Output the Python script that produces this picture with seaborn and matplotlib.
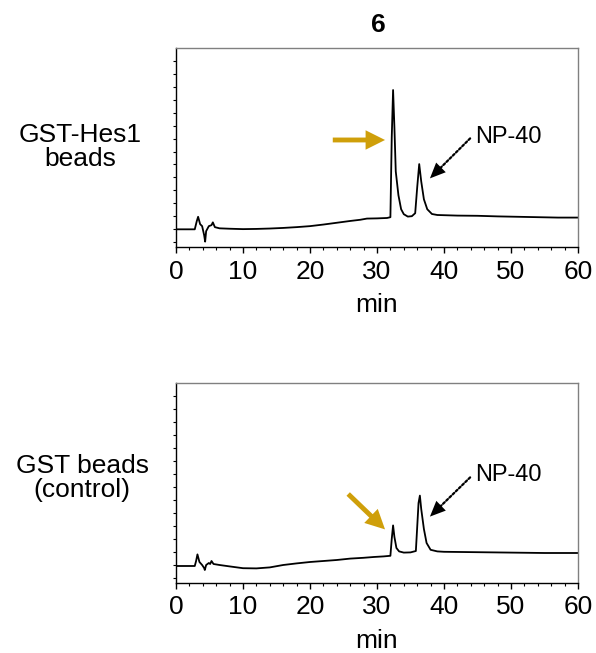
import numpy as np
import pandas as pd
import matplotlib.pyplot as plt
import seaborn as sns

sns.set_style("ticks")
plt.rcParams['font.family'] = ['Liberation Sans', 'DejaVu Sans']
plt.rcParams['text.color'] = 'black'
plt.rcParams['xtick.color'] = 'black'
plt.rcParams['ytick.color'] = 'black'
plt.rcParams['axes.labelcolor'] = 'black'

# retention time (min) and detector signal (arbitrary units, 0-100 of plot height)
hes1_time = [0, 2.8, 3.1, 3.3, 3.6, 3.9, 4.2, 4.35, 4.5, 4.9, 5.3, 5.5, 5.8, 6.5, 8, 10,
             12, 14, 16, 18, 20, 22, 24, 26, 27.5, 28.5, 30, 31.5, 32.0, 32.2, 32.4,
             32.6, 32.8, 33.2, 33.6, 34.0, 34.6, 35.2, 35.7, 36.0, 36.3, 36.6, 37.0,
             37.5, 38.2, 39, 40, 42, 45, 48, 51, 54, 57, 60]
hes1_signal = [8.9, 8.9, 13, 15.2, 11.5, 10.5, 6, 2.7, 8, 10.5, 11, 12.4, 10, 9.4, 9.2, 9.0,
               9.1, 9.3, 9.6, 10.0, 10.5, 11.3, 12.2, 13.1, 13.7, 14.3, 14.4, 14.6, 15, 55, 78.9,
               60, 38, 26, 19, 16.5, 15.3, 15.5, 17, 30, 41.7, 33, 24,
               19, 16.6, 16.1, 16.0, 15.8, 15.7, 15.4, 15.2, 15.0, 14.8, 14.8]

ctrl_time = [0, 2.8, 3.0, 3.2, 3.5, 3.9, 4.2, 4.3, 4.5, 4.9, 5.1, 5.3, 5.6, 6.5, 8, 10,
             12, 14, 16, 18, 20, 22, 24, 26, 28, 29.5, 31, 32.0, 32.2, 32.4, 32.6, 32.9,
             33.3, 34, 35, 35.8, 36.0, 36.2, 36.4, 36.6, 37.0, 37.4, 38.0, 39, 40, 45,
             50, 55, 60]
ctrl_signal = [8.5, 8.5, 11, 14.3, 10.5, 9, 7.5, 6.5, 9, 10, 9.5, 11, 9.5, 9, 8.3, 7.4,
               7.3, 7.8, 9.0, 9.8, 10.5, 11.0, 11.5, 12.2, 12.6, 13.0, 13.3, 13.6, 22, 28.8, 23, 17.5,
               15.8, 15.2, 15.3, 16, 28, 40, 43.7, 37, 27, 20, 16.6, 15.8, 15.6, 15.4,
               15.2, 15.0, 15.0]

panel_labels = ["GST-Hes1\nbeads", "GST beads\n(control)"]
peak_label = "NP-40"
gold = "#CF9F0A"

fig = plt.figure(figsize=(5.96, 6.53), dpi=100)
ax1 = fig.add_axes([0.2953, 0.6217, 0.6745, 0.3047])
ax2 = fig.add_axes([0.2953, 0.1072, 0.6745, 0.3063])

traces = [(hes1_time, hes1_signal), (ctrl_time, ctrl_signal)]
for ax, (t, s) in zip([ax1, ax2], traces):
    df = pd.DataFrame({"min": t, "signal": s})
    sns.lineplot(data=df, x="min", y="signal", ax=ax, color="black", lw=1.3)
    ax.set_xlim(0, 60)
    ax.set_ylim(0, 100)
    ax.set_xticks(np.arange(0, 61, 10))
    ax.set_xticks(np.arange(0, 61, 2), minor=True)
    ax.set_yticks(np.arange(2.5, 100, 6.5))
    ax.set_yticklabels([])
    ax.tick_params(axis="x", which="major", length=4, width=1, labelsize=19, pad=5)
    ax.tick_params(axis="x", which="minor", length=2.5, width=0.8)
    ax.tick_params(axis="y", length=2.5, width=0.8)
    ax.set_ylabel("")
    ax.set_xlabel("min", fontsize=19, labelpad=7)
    for side in ["top", "right"]:
        ax.spines[side].set_color("#808080")
        ax.spines[side].set_linewidth(1)
    for side in ["left", "bottom"]:
        ax.spines[side].set_color("black")
        ax.spines[side].set_linewidth(1)

gold_style = "simple,head_length=1.0,head_width=1.0,tail_width=0.25"


def dotted_arrow(ax, tip, start):
    # dotted shaft, then a solid filled head on top
    ax.annotate("", xy=tip, xytext=start,
                arrowprops=dict(arrowstyle="-", color="black", shrinkA=0, shrinkB=4,
                                lw=1.6, linestyle=(0, (1, 1))))
    back = (tip[0] + 0.3 * (start[0] - tip[0]), tip[1] + 0.3 * (start[1] - tip[1]))
    ax.annotate("", xy=tip, xytext=back,
                arrowprops=dict(arrowstyle="-|>,head_length=0.8,head_width=0.35",
                                color="black", mutation_scale=14, shrinkA=0, shrinkB=0,
                                lw=0))


# top panel annotations
ax1.annotate("", xy=(31.2, 53.8), xytext=(23.4, 53.8),
             arrowprops=dict(arrowstyle=gold_style, color=gold, mutation_scale=14,
                             shrinkA=0, shrinkB=0, lw=0))
dotted_arrow(ax1, (37.9, 34.5), (43.9, 54.6))
ax1.text(49.6, 55.4, peak_label, fontsize=17, ha="center", va="center")

# bottom panel annotations
ax2.annotate("", xy=(31.2, 26.8), xytext=(25.7, 44.5),
             arrowprops=dict(arrowstyle=gold_style, color=gold, mutation_scale=14,
                             shrinkA=0, shrinkB=0, lw=0))
dotted_arrow(ax2, (37.9, 33.2), (43.9, 52.8))
ax2.text(49.6, 54, peak_label, fontsize=17, ha="center", va="center")

fig.text(378 / 596, 1 - 25 / 653, "6", fontsize=19, fontweight="bold",
         ha="center", va="center")
fig.text(80 / 596, 1 - 147 / 653, panel_labels[0], fontsize=19, ha="center",
         va="center", linespacing=1.05)
fig.text(82 / 596, 1 - 478 / 653, panel_labels[1], fontsize=19, ha="center",
         va="center", linespacing=1.05)

fig.savefig("out.png", dpi=100)
